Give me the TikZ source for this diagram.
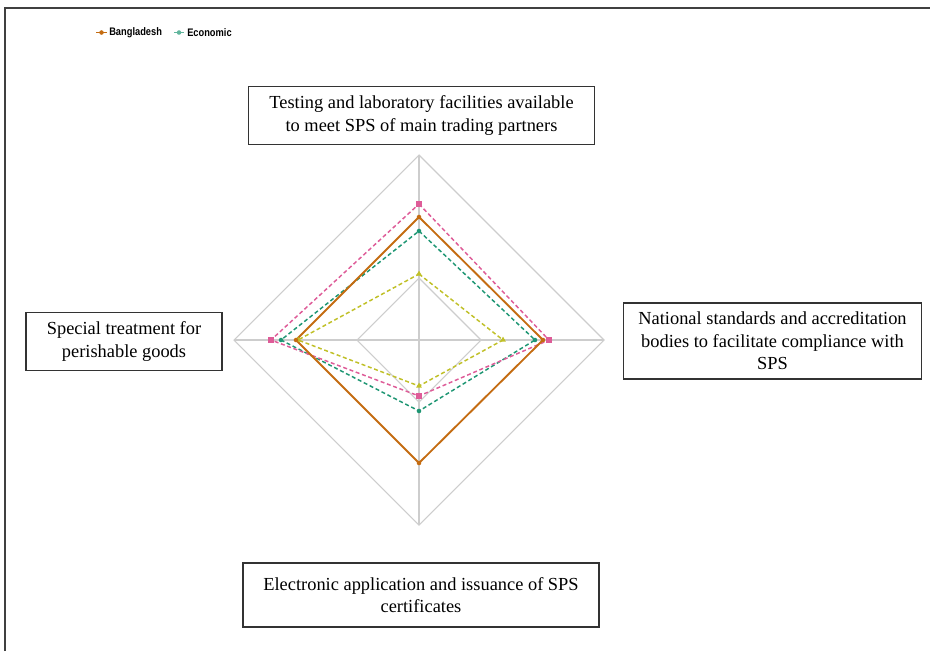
\documentclass[tikz,border=0pt]{standalone}
\usepackage{fontspec}
\setmainfont{Liberation Serif}
\newfontfamily\legendfont[FakeStretch=0.85]{Liberation Sans}
\usetikzlibrary{shapes.geometric, positioning}
\definecolor{cBangla}{RGB}{196,108,18}
\definecolor{cEcon}{RGB}{30,150,115}
\definecolor{cPink}{RGB}{222,92,152}
\definecolor{cOlive}{RGB}{192,192,40}
\definecolor{cGrid}{RGB}{205,205,205}
\tikzset{
	gridline/.style ={draw=cGrid, line width=0.8pt},
	axisbox/.style  ={rectangle, draw=black!80, line width=0.9pt, align=center, inner sep=2pt,
		font=\fontsize{13.8}{17}\selectfont},
	series/.style   ={line width=1.1pt, dash pattern=on 3pt off 2pt},
	solidser/.style ={line width=1.4pt},
	% markers
	mkdot/.style    ={circle, inner sep=0pt, minimum size=3.4pt},
	mksq/.style     ={rectangle, fill=cPink, inner sep=0pt, minimum size=4.2pt},
	mktri/.style    ={isosceles triangle, isosceles triangle apex angle=60, shape border rotate=90,
		fill=cOlive, inner sep=0pt, minimum size=3.8pt},
	legtext/.style  ={anchor=west, inner sep=0pt, font=\legendfont\bfseries\fontsize{8.2}{9}\selectfont},
}

\begin{document}
\begin{tikzpicture}[x=0.75pt, y=-0.75pt]
	\useasboundingbox (0,0) rectangle (930,651);
	\draw[line width=1.2pt, black!75] (5,651) -- (5,8) -- (930,8);

	% legend
	\draw[cBangla, line width=1.2pt] (96,32.5) -- (107,32.5);
	\node[mkdot, fill=cBangla] (lb) at (101.5,32.5) {};
	\node[legtext] (tb) at (109,32.5) {Bangladesh};
	\draw[cEcon!70, line width=1.2pt] (174,32.5) -- (184,32.5);
	\node[mkdot, fill=cEcon!70] (le) at (179,32.5) {};
	\node[legtext] (te) at (187,32.5) {Economic};

	% radar
	\begin{scope}[shift={(419,340)}]
		\coordinate (o) at (0,0);
		\foreach \r in {62,185}
			\draw[gridline] (0,-\r) -- (\r,0) -- (0,\r) -- (-\r,0) -- cycle;
		\coordinate (top) at (0,-185);
		\coordinate (bot) at (0,185);
		\coordinate (lft) at (-185,0);
		\coordinate (rgt) at (185,0);
		\draw[gridline] (top) -- (bot);
		\draw[gridline] (lft) -- (rgt);

		\draw[series, cOlive] (0,-66) -- (84,0) -- (0,46) -- (-121,0) -- cycle;
		\draw[series, cEcon] (0,-109) -- (116,0) -- (0,71) -- (-138,0) -- cycle;
		\draw[series, cPink] (0,-136) -- (130,0) -- (0,56) -- (-148,0) -- cycle;
		\draw[solidser, cBangla] (0,-123) -- (124,0) -- (0,123) -- (-123,0) -- cycle;

		\foreach \p in {(0,-66),(84,0),(0,46),(-121,0)} \node[mktri] at \p {};
		\foreach \p in {(0,-109),(116,0),(0,71),(-138,0)} \node[mkdot, fill=cEcon] at \p {};
		\foreach \p in {(0,-136),(130,0),(0,56),(-148,0)} \node[mksq] at \p {};
		\foreach \p in {(0,-123),(124,0),(0,123),(-123,0)} \node[mkdot, fill=cBangla] at \p {};
	\end{scope}

	% axis labels
	\node[axisbox, minimum width=260pt, minimum height=44pt] (ltop) at (421.5,115.5)
		{Testing and laboratory facilities available\\ to meet SPS of main trading partners};
	\node[axisbox, minimum width=147pt, minimum height=44pt] (llft) at (124,341.5)
		{Special treatment for\\ perishable goods};
	\node[axisbox, minimum width=224pt, minimum height=57pt] (lrgt) at (772.5,341)
		{National standards and accreditation\\ bodies to facilitate compliance with\\ SPS};
	\node[axisbox, minimum width=267pt, minimum height=48pt] (lbot) at (421,595)
		{Electronic application and issuance of SPS\\ certificates};
\end{tikzpicture}
\end{document}
